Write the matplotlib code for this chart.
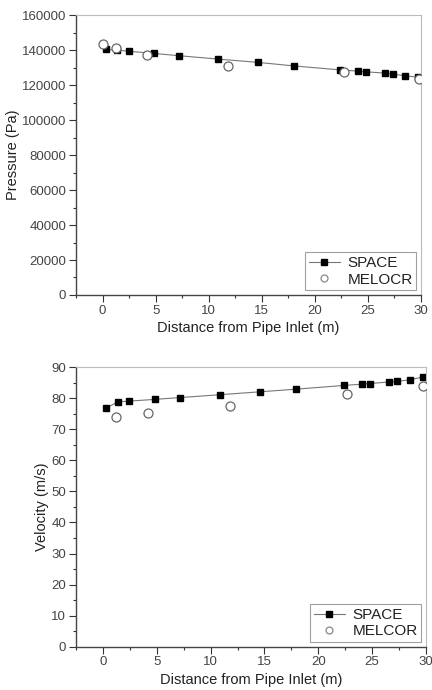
import matplotlib
matplotlib.use("Agg")
import matplotlib.pyplot as plt
from matplotlib.ticker import MultipleLocator

# Pressure data
p_space_x = [0.31, 1.35, 2.45, 4.86, 7.24, 10.88, 14.65, 18.0, 22.4, 24.1, 24.8, 26.6, 27.4, 28.5, 29.7]
p_space_y = [140400, 140000, 139400, 138100, 136800, 134900, 133000, 131000, 128700, 128000, 127600, 126900, 126300, 125300, 124600]
p_melcor_x = [0.0, 1.25, 4.2, 11.85, 22.7, 29.85]
p_melcor_y = [143800, 141300, 137300, 131200, 127300, 123400]

# Velocity data
v_space_x = [0.28, 1.39, 2.45, 4.8, 7.2, 10.85, 14.6, 17.97, 22.4, 24.1, 24.8, 26.55, 27.3, 28.5, 29.7]
v_space_y = [76.8, 78.8, 79.05, 79.6, 80.2, 81.1, 82.05, 82.9, 84.1, 84.5, 84.7, 85.2, 85.4, 85.9, 86.8]
v_melcor_x = [1.24, 4.2, 11.8, 22.65, 29.7]
v_melcor_y = [74.0, 75.3, 77.5, 81.2, 83.8]

plt.rcParams['font.family'] = ['Liberation Sans', 'DejaVu Sans']

fig = plt.figure(figsize=(4.32, 6.9), dpi=100)
ax1 = fig.add_axes([0.176, 0.5725, 0.9745 - 0.176, 0.978 - 0.5725])
ax2 = fig.add_axes([0.176, 0.0627, 0.986 - 0.176, 0.468 - 0.0627])

def style(ax, ylim, major, minor, ylabel, legend_names, data):
    sx, sy, mx, my = data
    ax.plot(sx, sy, '-', color='#777777', lw=0.8, marker='s', ms=4.2,
            mfc='black', mec='black', label=legend_names[0], zorder=2)
    ax.plot(mx, my, 'o', ms=6.5, mfc='white', mec='#666666', mew=0.9,
            ls='none', label=legend_names[1], zorder=3)
    ax.set_xlim(-2.5, 30)
    ax.set_ylim(*ylim)
    ax.xaxis.set_major_locator(MultipleLocator(5))
    ax.xaxis.set_minor_locator(MultipleLocator(2.5))
    ax.yaxis.set_major_locator(MultipleLocator(major))
    ax.yaxis.set_minor_locator(MultipleLocator(minor))
    ax.tick_params(which='both', direction='out', colors='#333333', labelsize=9.5, pad=2)
    ax.tick_params(which='both', labelcolor='#444444')
    ax.tick_params(which='major', length=5, width=0.8)
    ax.tick_params(which='minor', length=2.5, width=0.8)
    for s in ['top', 'right']:
        ax.spines[s].set_color('#bbbbbb')
        ax.spines[s].set_linewidth(0.8)
    for s in ['left', 'bottom']:
        ax.spines[s].set_color('#444444')
        ax.spines[s].set_linewidth(1.0)
    ax.set_xlabel('Distance from Pipe Inlet (m)', fontsize=10.5, color='#222222', labelpad=3)
    ax.set_ylabel(ylabel, fontsize=10.5, color='#222222', labelpad=1.5)
    leg = ax.legend(loc='lower right', fontsize=11, frameon=True, fancybox=False,
                    edgecolor='#888888', handlelength=2.0, borderpad=0.25,
                    labelspacing=0.15, handletextpad=0.5, borderaxespad=0.3)
    leg.get_frame().set_linewidth(0.8)
    handles = leg.legend_handles
    handles[0].set_markersize(4)
    handles[1].set_markersize(5)
    handles[1].set_markeredgecolor('#888888')
    for t in leg.get_texts():
        t.set_color('#222222')

style(ax1, (0, 160000), 20000, 10000, 'Pressure (Pa)', ['SPACE', 'MELOCR'],
      (p_space_x, p_space_y, p_melcor_x, p_melcor_y))
style(ax2, (0, 90), 10, 5, 'Velocity (m/s)', ['SPACE', 'MELCOR'],
      (v_space_x, v_space_y, v_melcor_x, v_melcor_y))

fig.savefig('out.png', dpi=100)
